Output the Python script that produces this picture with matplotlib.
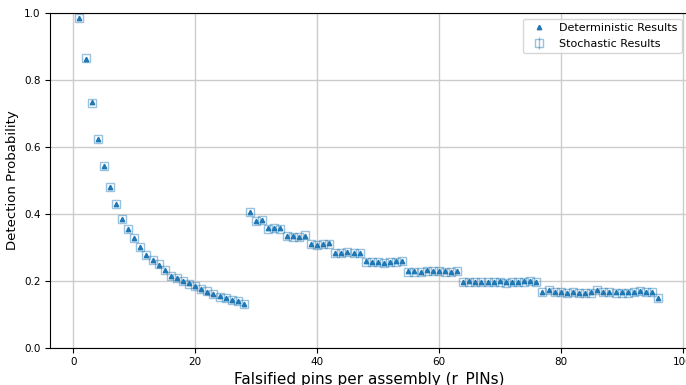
import matplotlib
matplotlib.use("Agg")
import matplotlib.pyplot as plt
import numpy as np

# falsified pins per assembly
pins = np.arange(1, 97)

# deterministic detection probability
det_prob = [0.985, 0.864, 0.734, 0.625, 0.542, 0.480, 0.430, 0.386, 0.355, 0.328,
            0.301, 0.276, 0.262, 0.248, 0.233, 0.214, 0.208, 0.199, 0.192, 0.183,
            0.175, 0.167, 0.160, 0.153, 0.149, 0.143, 0.140, 0.132,
            0.405, 0.379, 0.383, 0.357, 0.359, 0.357, 0.333, 0.333, 0.332, 0.335,
            0.310, 0.308, 0.310, 0.312, 0.284, 0.283, 0.286, 0.284, 0.284,
            0.258, 0.257, 0.256, 0.254, 0.257, 0.258, 0.260,
            0.228, 0.228, 0.227, 0.231, 0.229, 0.229, 0.228, 0.226, 0.229,
            0.197, 0.198, 0.197, 0.196, 0.196, 0.197, 0.198, 0.195, 0.197, 0.197,
            0.198, 0.200, 0.197,
            0.167, 0.172, 0.167, 0.167, 0.164, 0.167, 0.164, 0.164, 0.165, 0.172,
            0.167, 0.167, 0.165, 0.165, 0.165, 0.166, 0.170, 0.167, 0.167, 0.149]

# stochastic results (very close to the deterministic ones)
sto_prob = [0.986, 0.865, 0.733, 0.624, 0.543, 0.481, 0.429, 0.385, 0.354, 0.329,
            0.300, 0.277, 0.261, 0.249, 0.232, 0.215, 0.207, 0.198, 0.191, 0.184,
            0.176, 0.168, 0.161, 0.152, 0.148, 0.144, 0.141, 0.131,
            0.407, 0.378, 0.382, 0.356, 0.358, 0.356, 0.334, 0.332, 0.331, 0.336,
            0.309, 0.306, 0.309, 0.311, 0.283, 0.282, 0.285, 0.283, 0.283,
            0.257, 0.256, 0.255, 0.253, 0.256, 0.257, 0.259,
            0.227, 0.227, 0.226, 0.230, 0.228, 0.228, 0.227, 0.225, 0.228,
            0.196, 0.197, 0.196, 0.195, 0.195, 0.196, 0.197, 0.194, 0.196, 0.196,
            0.197, 0.199, 0.196,
            0.166, 0.171, 0.166, 0.166, 0.163, 0.166, 0.163, 0.163, 0.164, 0.173,
            0.166, 0.166, 0.164, 0.164, 0.164, 0.165, 0.169, 0.166, 0.166, 0.148]
sto_err = [0.003] * 96

fig = plt.figure(figsize=(6.86, 3.85), dpi=100)
ax = fig.add_axes([0.0736, 0.097, 0.928, 0.8685])

ax.plot(pins, det_prob, '^', color='#1f77b4', markersize=3.2,
        linestyle='none', label='Deterministic Results', zorder=3)
ax.errorbar(pins, sto_prob, yerr=sto_err, fmt='s', markersize=5.5,
            mfc='none', mec='#1f77b4', ecolor='#1f77b4', alpha=0.45,
            elinewidth=1, label='Stochastic Results', zorder=2)

ax.set_xlim(-3.75, 100.75)
ax.set_ylim(0, 1.0)
ax.set_xticks([0, 20, 40, 60, 80, 100])
ax.set_yticks([0.0, 0.2, 0.4, 0.6, 0.8, 1.0])
ax.grid(True, color='#cccccc', linewidth=1)
ax.set_axisbelow(True)
ax.tick_params(labelsize=7.5)
ax.set_xlabel('Falsified pins per assembly (r_PINs)', fontsize=11, labelpad=3)
ax.set_ylabel('Detection Probability', fontsize=9.5)
ax.legend(loc='upper right', fontsize=8)

fig.savefig('out.png', dpi=100)
